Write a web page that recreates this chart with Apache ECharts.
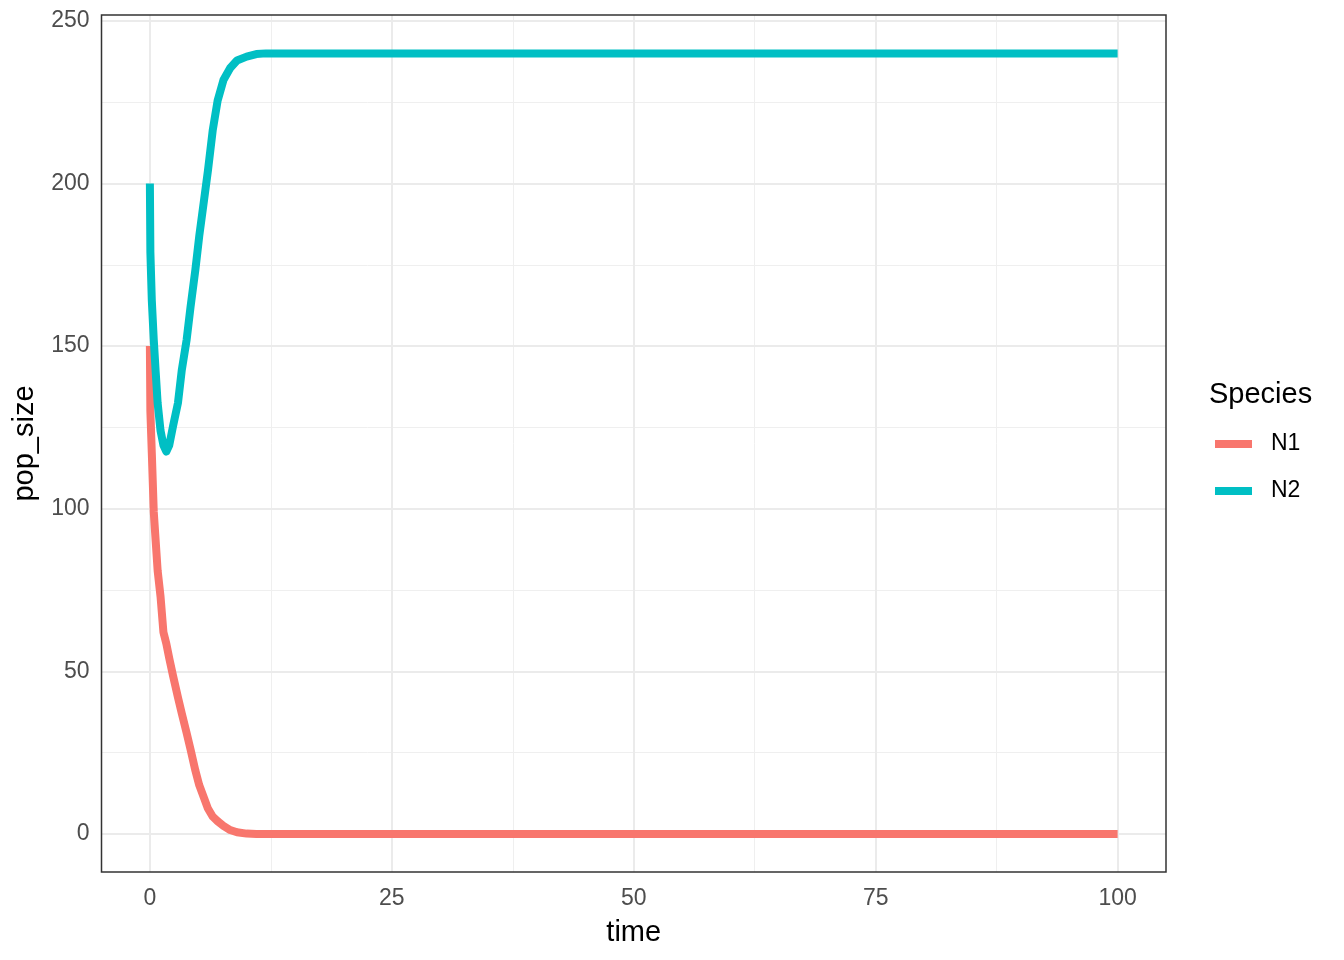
<!DOCTYPE html>
<html>
<head>
<meta charset="utf-8">
<script src="https://cdn.jsdelivr.net/npm/echarts@6/dist/echarts.min.js"></script>
<style>
html,body{margin:0;padding:0;background:#fff;}
#chart{width:1344px;height:960px;}
</style>
</head>
<body>
<div id="chart"></div>
<script>
// ---- data ----
const time = [0, 0.05, 0.2, 0.4, 0.6, 0.8, 1.1, 1.4, 1.7, 2.0, 2.4, 2.9, 3.3, 3.8, 4.2, 4.7, 5.1, 5.6, 6.0, 6.5, 7.0, 7.6, 8.3, 9.0, 10, 11, 12, 14, 20, 100];
const N1 = [150, 130, 117, 99, 90, 81, 73, 62, 58.5, 54, 48.5, 42, 37, 31, 26, 19.5, 15, 11, 7.8, 5.3, 3.9, 2.5, 1.2, 0.5, 0.1, 0, 0, 0, 0, 0];
const N2 = [200, 179, 164, 152, 142, 132.5, 124, 119.5, 117.6, 119.5, 125.5, 132.5, 142.7, 152, 162, 173.5, 183.8, 195, 204, 216.5, 225.5, 231.8, 235.5, 237.8, 239, 239.8, 240, 240, 240, 240];
const speciesNames = ['N1', 'N2'];
const xTicks = [0, 25, 50, 75, 100];
const yTicks = [0, 50, 100, 150, 200, 250];

const colors = ['#F8766D', '#00BFC4'];
const xMinor = xTicks.slice(0, -1).map((v, i) => (v + xTicks[i + 1]) / 2);
const yMinor = yTicks.slice(0, -1).map((v, i) => (v + yTicks[i + 1]) / 2);

const majorStyle = { color: '#EBEBEB', width: 2, type: 'solid' };
const minorStyle = { color: '#EFEFEF', width: 1, type: 'solid' };
const gridLineData = [].concat(
  xMinor.map(v => ({ xAxis: v, lineStyle: minorStyle })),
  yMinor.map(v => ({ yAxis: v, lineStyle: minorStyle })),
  xTicks.map(v => ({ xAxis: v, lineStyle: majorStyle })),
  yTicks.map(v => ({ yAxis: v, lineStyle: majorStyle }))
);

const font = 'Liberation Sans, Arial, sans-serif';
const chart = echarts.init(document.getElementById('chart'), null, { renderer: 'canvas' });

const series = [{
  name: '_grid', type: 'line', data: [], silent: true, z: 1,
  markLine: {
    silent: true, z: 1, symbol: 'none', animation: false,
    label: { show: false }, emphasis: { disabled: true },
    data: gridLineData
  }
}];
[N1, N2].forEach((vals, i) => {
  series.push({
    name: speciesNames[i], type: 'line', z: 2 + i,
    data: time.map((t, j) => [t, vals[j]]),
    showSymbol: false, symbol: 'none',
    lineStyle: { color: colors[i], width: 8, cap: 'butt', join: 'round' },
    itemStyle: { color: colors[i] },
    emphasis: { disabled: true }
  });
});

chart.setOption({
  animation: false,
  backgroundColor: '#ffffff',
  grid: {
    left: 101.5, top: 15, width: 1064.5, height: 857,
    show: true, backgroundColor: 'transparent',
    borderColor: '#333333', borderWidth: 1.5, z: 10
  },
  title: {
    text: 'Species', left: 1209, top: 380, padding: 0,
    textStyle: { fontFamily: font, fontSize: 29, fontWeight: 'normal', color: '#000' }
  },
  legend: {
    data: speciesNames, orient: 'vertical', left: 1215, top: 432, padding: 0,
    icon: 'rect', itemWidth: 37, itemHeight: 8, itemGap: 23,
    selectedMode: false,
    textStyle: { fontFamily: font, fontSize: 23, color: '#000', lineHeight: 24, padding: [0, 0, 0, 14] }
  },
  xAxis: {
    type: 'value', min: -5, max: 105,
    name: 'time', nameLocation: 'middle', nameGap: 46,
    nameTextStyle: { fontFamily: font, fontSize: 29, color: '#000' },
    axisLine: { show: false },
    axisTick: { show: true, customValues: xTicks, length: 7, lineStyle: { color: '#333333', width: 1.5 } },
    axisLabel: { show: true, customValues: xTicks, fontFamily: font, fontSize: 23, color: '#4D4D4D', margin: 15 },
    splitLine: { show: false }
  },
  yAxis: {
    type: 'value', min: -11.7, max: 251.8,
    name: 'pop_size', nameLocation: 'middle', nameGap: 62,
    nameTextStyle: { fontFamily: font, fontSize: 29, color: '#000' },
    axisLine: { show: false },
    axisTick: { show: true, customValues: yTicks, length: 7, lineStyle: { color: '#333333', width: 1.5 } },
    axisLabel: { show: true, customValues: yTicks, fontFamily: font, fontSize: 23, color: '#4D4D4D', margin: 12 },
    splitLine: { show: false }
  },
  series: series
});
</script>
</body>
</html>
